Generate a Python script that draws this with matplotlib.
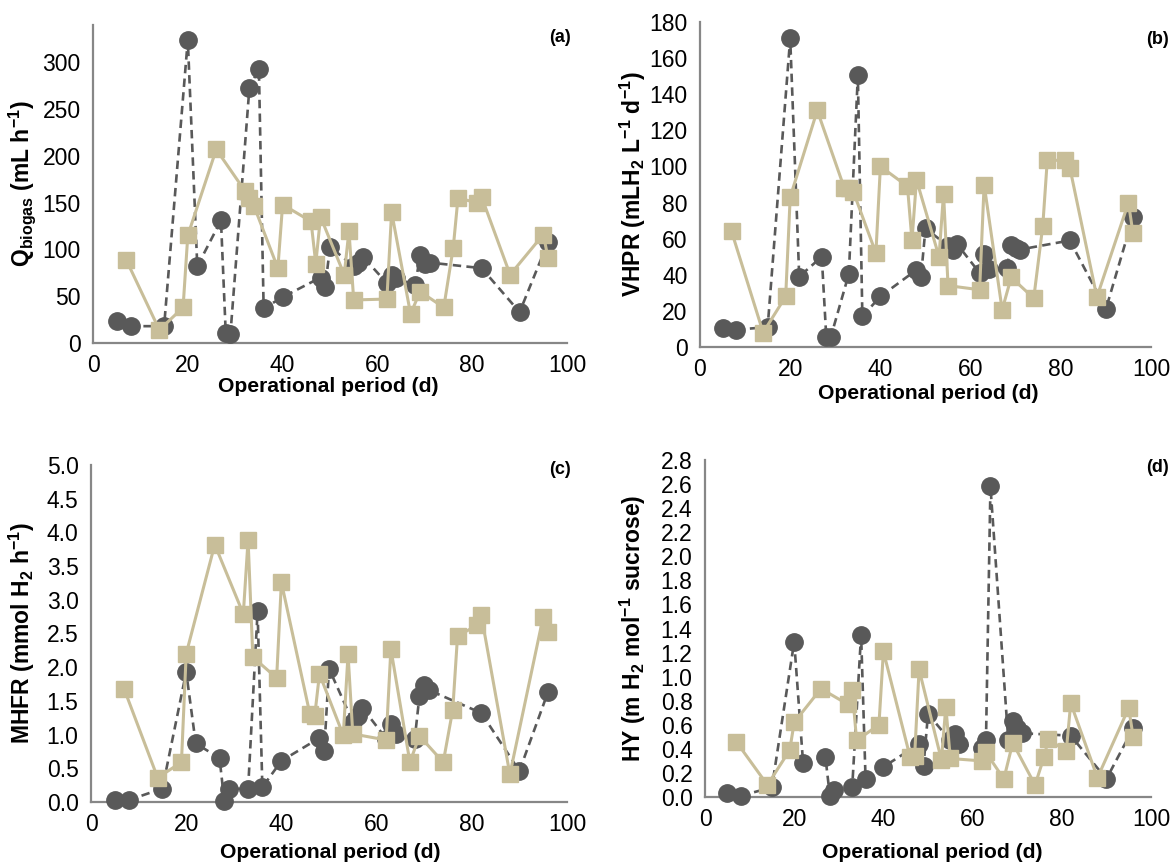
import matplotlib
matplotlib.use("Agg")
import matplotlib.pyplot as plt

plt.rcParams['font.family'] = ['Liberation Sans', 'DejaVu Sans']
plt.rcParams['mathtext.fontset'] = 'custom'
plt.rcParams['mathtext.rm'] = 'Liberation Sans'
plt.rcParams['mathtext.bf'] = 'Liberation Sans:bold'
plt.rcParams['mathtext.it'] = 'Liberation Sans:italic'

# ---- data ----
days_dark = [5, 8, 15, 20, 22, 27, 28, 29, 33, 35, 36, 40, 48, 49, 50, 55, 56, 57,
             62, 63, 64, 68, 69, 70, 71, 82, 90, 96]
days_light = [7, 14, 19, 20, 26, 32, 33, 34, 39, 40, 46, 47, 48, 53, 54, 55, 62, 63,
              67, 69, 74, 76, 77, 81, 82, 88, 95, 96]

q_dark = [23, 18, 18, 324, 82, 131, 11, 10, 273, 293, 37, 49, 70, 60, 103, 82, 86, 92,
          64, 73, 69, 62, 94, 85, 86, 80, 33, 108]
q_light = [89, 14, 38, 115, 207, 163, 155, 146, 80, 148, 130, 85, 135, 73, 120, 46, 47, 140,
           31, 55, 38, 102, 155, 150, 156, 73, 116, 91]

vhpr_dark = [10.5, 9.6, 11, 171, 39, 50, 5.5, 5.5, 40.5, 150.5, 17, 28, 42.7, 39, 65.7, 56, 54, 57,
             41, 51.5, 43, 44, 56.5, 55, 54, 59, 21, 72]
vhpr_light = [64, 8, 28, 83, 131, 88, 88, 86, 52, 100, 89, 59, 92.6, 50, 85, 34, 31.7, 90,
              20.6, 38.6, 27, 67, 103.4, 103.4, 99.4, 27.6, 80, 63]

mhfr_dark = [0.03, 0.03, 0.20, 1.93, 0.87, 0.65, 0.02, 0.20, 0.19, 2.83, 0.22, 0.61, 0.95, 0.76,
             1.98, 1.19, 1.28, 1.40, 0.94, 1.16, 1.01, 0.93, 1.57, 1.74, 1.66, 1.32, 0.46, 1.63]
mhfr_light = [1.67, 0.36, 0.59, 2.20, 3.82, 2.79, 3.89, 2.15, 1.84, 3.26, 1.30, 1.28, 1.90, 0.99,
              2.19, 1.01, 0.92, 2.27, 0.59, 0.98, 0.59, 1.37, 2.46, 2.62, 2.77, 0.41, 2.75, 2.52]

hy_dark = [0.03, 0.01, 0.08, 1.29, 0.28, 0.33, 0.01, 0.06, 0.08, 1.35, 0.15, 0.25, 0.44, 0.26,
           0.69, 0.47, 0.52, 0.44, 0.41, 0.47, 2.58, 0.47, 0.63, 0.57, 0.53, 0.51, 0.15, 0.57]
hy_light = [0.46, 0.10, 0.39, 0.62, 0.90, 0.77, 0.89, 0.47, 0.60, 1.21, 0.33, 0.34, 1.06, 0.31,
            0.75, 0.32, 0.30, 0.37, 0.15, 0.45, 0.10, 0.33, 0.48, 0.38, 0.78, 0.16, 0.74, 0.50]

x_ticks = [0, 20, 40, 60, 80, 100]
xlabel = "Operational period (d)"

DARK = "#595959"
LIGHT = "#C8BE99"
SPINE = "#878787"

W, H = 1174, 865
fig = plt.figure(figsize=(W / 100, H / 100), dpi=100)

TICK_FS = 16.5
XLAB_FS = 15.2
YLAB_FS = 16.5


def add_axes(left, right, top, bottom):
    return fig.add_axes([left / W, 1 - bottom / H, (right - left) / W, (bottom - top) / H])


panels = [
    dict(box=(93, 567, 25, 343), yd=q_dark, yl=q_light, ylim=340, yticks=[0, 50, 100, 150, 200, 250, 300],
         fmt="{:.0f}", ylabel=r"Q$_{\mathbf{biogas}}$ (mL h$^{\mathbf{-1}}$)", tag="(a)",
         tagpos=(571, 38), xlabpos=328, xlaby=387, ylabx=22),
    dict(box=(700, 1151, 22, 347), yd=vhpr_dark, yl=vhpr_light, ylim=180, yticks=list(range(0, 181, 20)),
         fmt="{:.0f}", ylabel=r"VHPR (mLH$_{\mathbf{2}}$ L$^{\mathbf{-1}}$ d$^{\mathbf{-1}}$)", tag="(b)",
         tagpos=(1169, 40), xlabpos=928, xlaby=393, ylabx=633),
    dict(box=(91, 567, 465, 802), yd=mhfr_dark, yl=mhfr_light, ylim=5.0, yticks=[0, 0.5, 1, 1.5, 2, 2.5, 3, 3.5, 4, 4.5, 5],
         fmt="{:.1f}", ylabel=r"MHFR (mmol H$_{\mathbf{2}}$ h$^{\mathbf{-1}}$)", tag="(c)",
         tagpos=(571, 470), xlabpos=330, xlaby=852, ylabx=22),
    dict(box=(705, 1151, 460, 797), yd=hy_dark, yl=hy_light, ylim=2.8, yticks=[round(0.2 * i, 1) for i in range(15)],
         fmt="{:.1f}", ylabel=r"HY (m H$_{\mathbf{2}}$ mol$^{\mathbf{-1}}$ sucrose)", tag="(d)",
         tagpos=(1169, 467), xlabpos=932, xlaby=853, ylabx=633),
]

for p in panels:
    l, r, t, b = p["box"]
    ax = add_axes(l, r, t, b)
    ax.plot(days_dark, p["yd"], color=DARK, lw=1.9, linestyle=(0, (3.2, 2.0)),
            marker="o", markersize=12.5, markerfacecolor=DARK, markeredgecolor=DARK,
            clip_on=False, zorder=3)
    ax.plot(days_light, p["yl"], color=LIGHT, lw=2.2, linestyle="-",
            marker="s", markersize=11.5, markerfacecolor=LIGHT, markeredgecolor=LIGHT,
            clip_on=False, zorder=4)
    ax.set_xlim(0, 100)
    ax.set_ylim(0, p["ylim"])
    ax.set_xticks(x_ticks)
    ax.set_xticklabels([str(v) for v in x_ticks])
    ax.set_yticks(p["yticks"])
    ax.set_yticklabels([p["fmt"].format(v) for v in p["yticks"]])
    ax.tick_params(axis="both", length=0, labelsize=TICK_FS, colors="black")
    ax.tick_params(axis="x", pad=8)
    ax.tick_params(axis="y", pad=9)
    for s in ["top", "right"]:
        ax.spines[s].set_visible(False)
    for s in ["left", "bottom"]:
        ax.spines[s].set_color(SPINE)
        ax.spines[s].set_linewidth(1.6)
    ax.patch.set_alpha(0)
    fig.text(p["xlabpos"] / W, 1 - p["xlaby"] / H, xlabel, fontsize=XLAB_FS, fontweight="bold",
             ha="center", va="center")
    fig.text(p["ylabx"] / W, 1 - ((t + b) / 2) / H, p["ylabel"], fontsize=YLAB_FS, fontweight="bold",
             rotation=90, ha="center", va="center")
    fig.text(p["tagpos"][0] / W, 1 - p["tagpos"][1] / H, p["tag"], fontsize=13, fontweight="bold",
             ha="right", va="center")

fig.savefig("out.png", dpi=100)
